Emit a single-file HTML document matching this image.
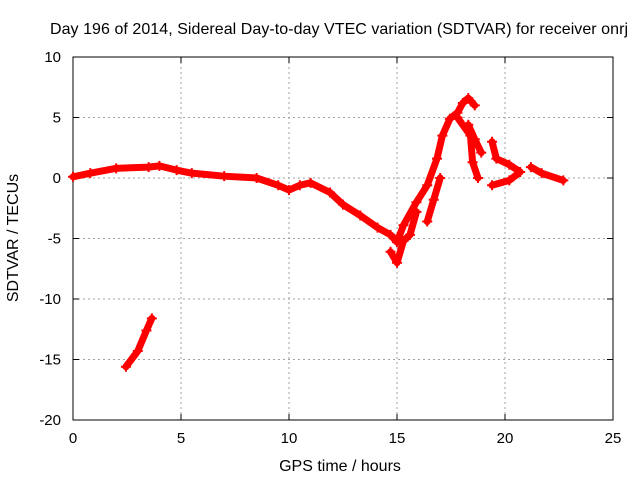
<!DOCTYPE html>
<html><head><meta charset="utf-8"><style>
body{margin:0;background:#fff}
svg text{font-family:"Liberation Sans",sans-serif;font-size:15px;fill:#000}
</style></head><body>
<svg id="chart" width="640" height="480">
<text x="339" y="34" text-anchor="middle" textLength="578" style="font-size:16px">Day 196 of 2014, Sidereal Day-to-day VTEC variation (SDTVAR) for receiver onrj</text>
<g id="grid"></g><g id="axes"></g><g id="data"></g>
<text x="340" y="471" text-anchor="middle" style="font-size:16px">GPS time / hours</text>
<text transform="translate(18,238) rotate(-90)" text-anchor="middle" style="font-size:16px">SDTVAR / TECUs</text>
</svg>
<script>
const xTicks=[0,5,10,15,20,25];
const yTicks=[10,5,0,-5,-10,-15,-20];
const traceMain=[[0,0.1],[0.8,0.4],[2,0.8],[3.5,0.9],[4,1.0],[4.8,0.65],[5.5,0.4],[7,0.15],[8.5,0],[9.5,-0.6],[10,-1.0],[10.5,-0.6],[11,-0.4],[11.9,-1.2],[12.5,-2.2],[13.3,-3.1],[14.1,-4.1],[14.7,-4.7],[15,-5.3],[15.3,-3.9],[15.9,-2.0],[16.4,-0.6],[16.85,1.6],[17.1,3.5],[17.45,4.9],[17.8,5.4],[18.05,6.2],[18.3,6.6],[18.6,6.0]];
const traceLow=[[14.7,-6.1],[15.0,-7.0],[15.3,-5.2],[15.6,-4.7],[15.9,-2.8]];
const traceBranch=[[16.4,-3.6],[16.7,-1.8],[17.0,0]];
const traceDesc=[[17.8,5.0],[18.4,3.5],[18.5,1.3],[18.75,0]];
const traceDesc2=[[18.3,4.4],[18.6,3.2],[18.9,2.1]];
const traceLoop=[[19.4,3.0],[19.6,1.6],[20.2,1.1],[20.7,0.5],[20.2,-0.2],[19.4,-0.6]];
const traceTail=[[21.2,0.9],[21.7,0.4],[22.7,-0.2]];
const traceFar=[[2.45,-15.6],[3.0,-14.3],[3.4,-12.6],[3.65,-11.6]];
const traces=[traceMain,traceLow,traceBranch,traceDesc,traceDesc2,traceLoop,traceTail,traceFar];
const X0=73,X1=613,Y0=420,Y1=57;
const xs=v=>X0+(v-0)/25*(X1-X0);
const ys=v=>Y0-(v+20)/30*(Y0-Y1);
const NS="http://www.w3.org/2000/svg";
const grid=document.getElementById('grid'),axes=document.getElementById('axes'),dg=document.getElementById('data');
function mk(tag,attrs,parent){const e=document.createElementNS(NS,tag);for(const k in attrs)e.setAttribute(k,attrs[k]);parent.appendChild(e);return e;}
xTicks.forEach(t=>{const x=xs(t);
 if(t>0&&t<25){const l=mk('line',{x1:x,x2:x,y1:Y1,y2:Y0,stroke:'#a0a0a0','stroke-dasharray':'2,3'},grid);
 
 }
 const tx=mk('text',{x:x,y:Y0+23,'text-anchor':'middle'},axes);tx.textContent=t;
 
 
 mk('line',{x1:x,x2:x,y1:Y0,y2:Y0-6,stroke:'#000'},axes);mk('line',{x1:x,x2:x,y1:Y1,y2:Y1+6,stroke:'#000'},axes);
});
yTicks.forEach(t=>{const y=ys(t);
 if(t<10&&t>-20){const l=mk('line',{x1:X0,x2:X1,y1:y,y2:y,stroke:'#a0a0a0','stroke-dasharray':'2,3'},grid);
 
 }
 const tx=mk('text',{x:X0-12,y:y+5,'text-anchor':'end'},axes);tx.textContent=t;
 
 
 mk('line',{x1:X0,x2:X0+6,y1:y,y2:y,stroke:'#000'},axes);mk('line',{x1:X1,x2:X1-6,y1:y,y2:y,stroke:'#000'},axes);
});
const fr=mk('rect',{x:X0,y:Y1,width:X1-X0,height:Y0-Y1,fill:'none',stroke:'#000'},axes);


traces.forEach(tr=>{
 const p=mk('polyline',{points:tr.map(d=>xs(d[0])+','+ys(d[1])).join(' '),fill:'none',stroke:'#f00','stroke-width':7,'stroke-linejoin':'round','stroke-linecap':'round'},dg);
 
 
 tr.forEach(d=>{const x=xs(d[0]),y=ys(d[1]);
  const m=mk('path',{d:`M${x-5},${y}H${x+5}M${x},${y-5}V${y+5}`,stroke:'#f00','stroke-width':2},dg);
  
  
 });
});
</script>
</body></html>
